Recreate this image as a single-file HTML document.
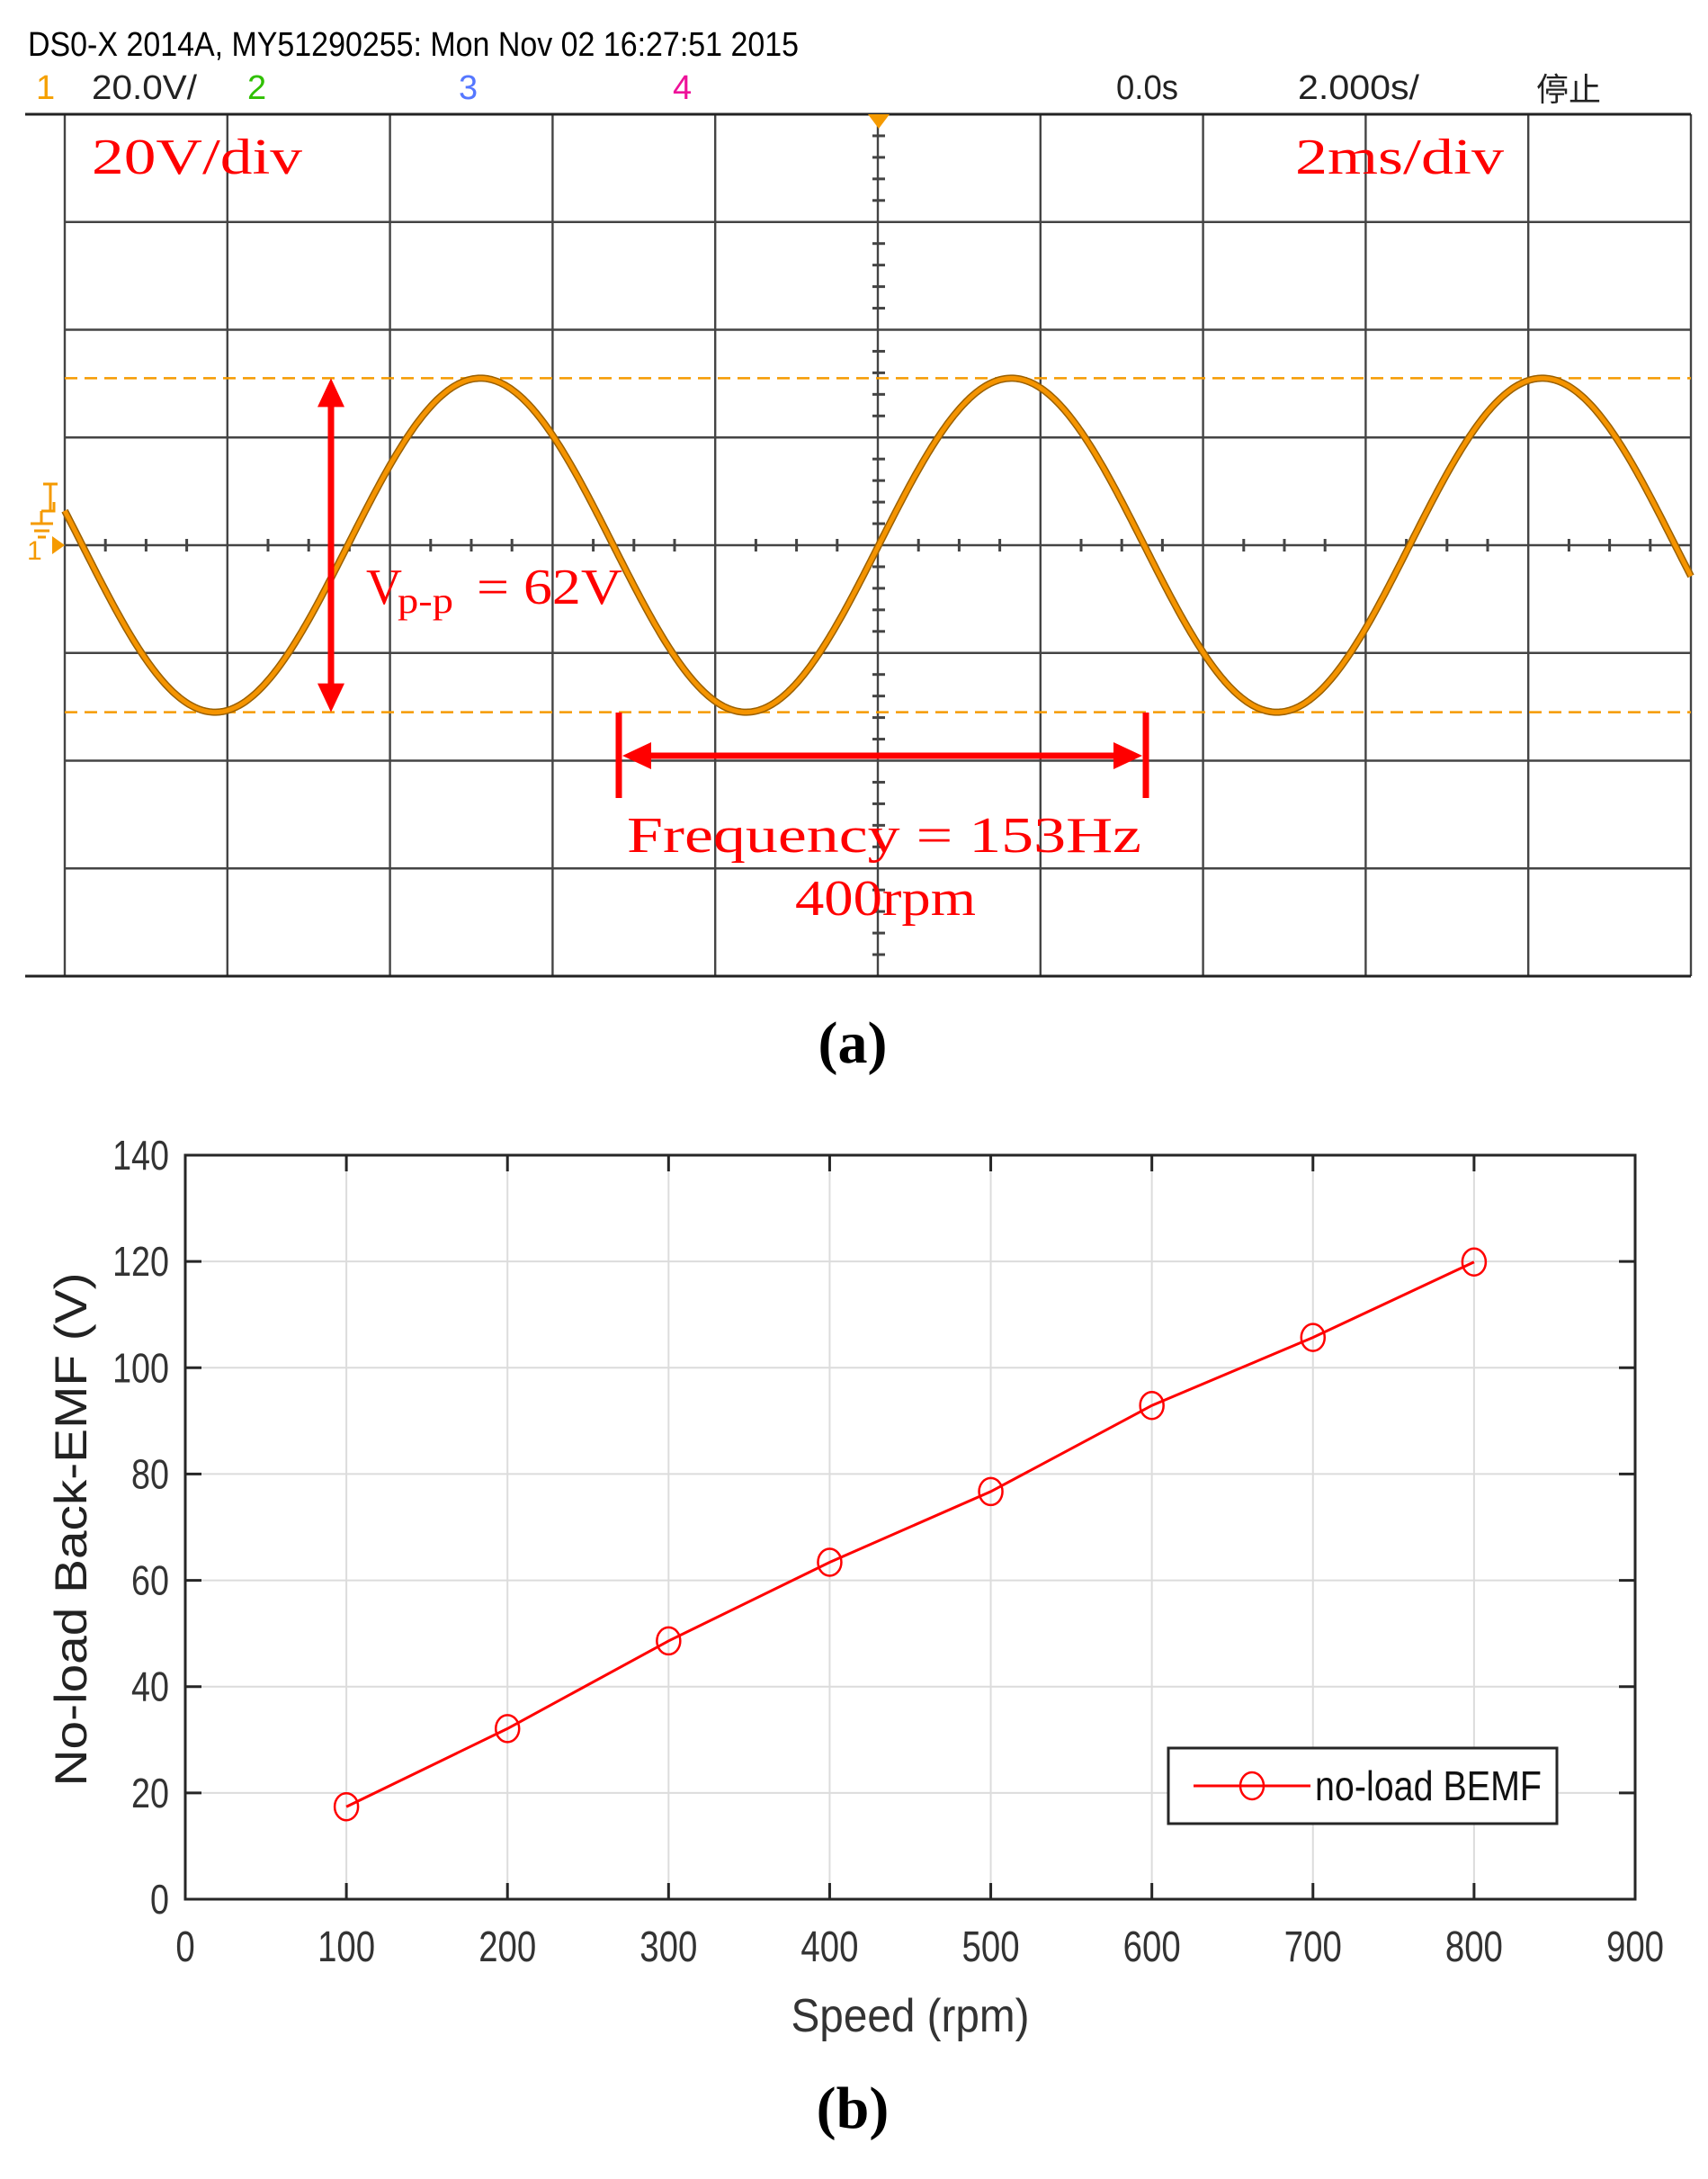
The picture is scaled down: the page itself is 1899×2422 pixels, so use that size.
<!DOCTYPE html>
<html><head><meta charset="utf-8"><style>
html,body{margin:0;padding:0;background:#fff;}
svg{display:block;}
</style></head><body>
<svg id="fig" width="1899" height="2422" viewBox="0 0 1899 2422" xmlns="http://www.w3.org/2000/svg">
<g id="scope">
  <text x="31" y="62" font-family="Liberation Sans, sans-serif" font-size="38" fill="#000" textLength="857" lengthAdjust="spacingAndGlyphs">DS0-X 2014A, MY51290255: Mon Nov 02 16:27:51 2015</text>
  <g font-family="Liberation Sans, sans-serif" font-size="38">
    <text x="40" y="110" fill="#f5a000">1</text>
    <text x="102" y="110" fill="#222" textLength="117" lengthAdjust="spacingAndGlyphs">20.0V/</text>
    <text x="275" y="110" fill="#2fc000">2</text>
    <text x="510" y="110" fill="#5577ff">3</text>
    <text x="748" y="110" fill="#ee1199">4</text>
    <text x="1241" y="110" fill="#222" textLength="69" lengthAdjust="spacingAndGlyphs">0.0s</text>
    <text x="1443" y="110" fill="#222" textLength="135" lengthAdjust="spacingAndGlyphs">2.000s/</text>
    <text x="1708" y="112" fill="#222" font-family="Liberation Sans, Noto Sans CJK SC, sans-serif" font-size="36">停止</text>
  </g>
  <g id="scopeGrid"></g>
  <g id="scopeWave"></g>
  <g id="scopeAnno"></g>
</g>
<text x="948" y="1181" text-anchor="middle" font-family="Liberation Serif, serif" font-size="66" font-weight="bold">(a)</text>
<g id="chart"></g>
<text x="948" y="2365" text-anchor="middle" font-family="Liberation Serif, serif" font-size="66" font-weight="bold">(b)</text>
</svg>
<script>
// ---- Scope data ----
const scopeVoltsPerDiv = 20;
const scopeAmplitudeV = [31];
const scopePeriodDiv = [3.265];
// ---- Chart data ----
const speeds = [100, 200, 300, 400, 500, 600, 700, 800];
const bemfValues = [17.4, 32.1, 48.6, 63.4, 76.7, 92.9, 105.7, 119.9];
const xTicks = [0, 100, 200, 300, 400, 500, 600, 700, 800, 900];
const yTicks = [0, 20, 40, 60, 80, 100, 120, 140];
const seriesName = ['no-load BEMF'];

const NS = 'http://www.w3.org/2000/svg';
function mk(tag, parent, attrs){ const e=document.createElementNS(NS,tag); for(const k in attrs) e.setAttribute(k,attrs[k]); parent.appendChild(e); return e; }

// ---- Scope ----
const SL=72, SR=1880, ST=127, SB=1085, CX=977, CY=606;
const divX=(SR-SL)/10, divY=(SB-ST)/8;
const sg=document.getElementById('scopeGrid');
for(let i=0;i<=10;i++){ const x=SL+i*divX;
  const l=mk('line',sg,{x1:x,y1:ST,x2:x,y2:SB,stroke:'#444','stroke-width':2.4});
  
  
}
for(let j=1;j<8;j++){ const y=ST+j*divY;
  const l=mk('line',sg,{x1:SL,y1:y,x2:SR,y2:y,stroke:'#444','stroke-width':2.4});
  
  
}
[ST,SB].forEach(y=>{ const l=mk('line',sg,{x1:28,y1:y,x2:SR,y2:y,stroke:'#222','stroke-width':3});
  
  
});
for(let k=0;k<=40;k++){ const x=SL+k*divX/4; if(k%4===0) continue;
  const t=mk('line',sg,{x1:x,y1:CY-7,x2:x,y2:CY+7,stroke:'#444','stroke-width':3});
  
  
}
for(let k=0;k<=40;k++){ const y=ST+k*divY/5; if(k%5===0) continue;
  const t=mk('line',sg,{x1:CX-7,y1:y,x2:CX+7,y2:y,stroke:'#444','stroke-width':3});
  
  
}
const trig=mk('polygon',sg,{points:`${CX-12},${ST} ${CX+12},${ST} ${CX},${ST+16}`,fill:'#f59a00'});


const gnd=mk('path',sg,{d:`M48,538 h16 M56,538 v30 M46,568 h14 v-10 M34,582 h25 M38,590 h17 M42,597 h9 M46,568 v14`,stroke:'#f59a00','stroke-width':3,fill:'none'});


const garr=mk('polygon',sg,{points:`58,596 72,606 58,616`,fill:'#f59a00'});


const g1=mk('text',sg,{x:30,y:622,fill:'#f59a00','font-family':'Liberation Sans, sans-serif','font-size':30});
g1.textContent='1';



const pxPerV=divY/scopeVoltsPerDiv;
const A=scopeAmplitudeV[0]*pxPerV, P=scopePeriodDiv[0]*divX;
const sw=document.getElementById('scopeWave');
[CY-A, CY+A].forEach(y=>{ const l=mk('line',sw,{x1:SL,y1:y,x2:SR,y2:y,stroke:'#f59a00','stroke-width':2.5,'stroke-dasharray':'14 8'});
  
  
});
let d='';
for(let x=SL;x<=SR;x+=2){ const y=CY-A*Math.sin(2*Math.PI*(x-CX)/P); d+=(x===SL?'M':'L')+x+','+y.toFixed(1); }
const w1=mk('path',sw,{d:d,stroke:'#9a6000','stroke-width':8,fill:'none'});


const w2=mk('path',sw,{d:d,stroke:'#f59400','stroke-width':5,fill:'none'});



const sa=document.getElementById('scopeAnno');
function red(tag,attrs,name){ const e=mk(tag,sa,attrs);   return e; }
red('line',{x1:368,y1:CY-A+28,x2:368,y2:CY+A-28,stroke:'#f00','stroke-width':7},'vpp-arrow-line');
red('polygon',{points:`368,${CY-A} 353,${CY-A+32} 383,${CY-A+32}`,fill:'#f00'},'vpp-arrow-head-top');
red('polygon',{points:`368,${CY+A} 353,${CY+A-32} 383,${CY+A-32}`,fill:'#f00'},'vpp-arrow-head-bottom');
const x1=688, x2=1274;
red('line',{x1:x1,y1:792,x2:x1,y2:887,stroke:'#f00','stroke-width':7},'period-bar-left');
red('line',{x1:x2,y1:792,x2:x2,y2:887,stroke:'#f00','stroke-width':7},'period-bar-right');
red('line',{x1:x1+20,y1:840,x2:x2-20,y2:840,stroke:'#f00','stroke-width':7},'period-arrow-line');
red('polygon',{points:`${x1+4},840 ${x1+36},825 ${x1+36},855`,fill:'#f00'},'period-arrow-head-left');
red('polygon',{points:`${x2-4},840 ${x2-36},825 ${x2-36},855`,fill:'#f00'},'period-arrow-head-right');
function rtext(x,y,s,len,name,fs){ const t=red('text',{x:x,y:y,fill:'#f00','font-family':'Liberation Serif, serif','font-size':fs||56,textLength:len,lengthAdjust:'spacingAndGlyphs'},name); t.textContent=s; return t; }
rtext(102,193,'20V/div',234,'volts-per-div-label');
rtext(1440,193,'2ms/div',232,'time-per-div-label');
rtext(407,671,'V',40,'vpp-label-v');
rtext(442,681,'p-p',62,'vpp-label-sub',40);
rtext(530,671,'=  62V',162,'vpp-label-value');
rtext(697,947,'Frequency = 153Hz',572,'frequency-label');
rtext(884,1017,'400rpm',201,'speed-label');

// ---- Chart ----
const cg=document.getElementById('chart');
const L=206,R=1818,T=1284,B=2111;
const xs=v=>L+(v-0)/(900-0)*(R-L);
const ys=v=>B-(v-0)/(140-0)*(B-T);
function c(tag,attrs){ return mk(tag,cg,attrs); }
xTicks.forEach(v=>{ const x=xs(v);
  if(v>0&&v<900){ const g=c('line',{x1:x,y1:T,x2:x,y2:B,stroke:'#dcdcdc','stroke-width':2});
     
    const t1=c('line',{x1:x,y1:B,x2:x,y2:B-18,stroke:'#262626','stroke-width':3});
     
    const t2=c('line',{x1:x,y1:T,x2:x,y2:T+18,stroke:'#262626','stroke-width':3});
     
  }
  const lb=c('text',{x:x,y:2180,'text-anchor':'middle','font-family':'Liberation Sans, sans-serif','font-size':48,fill:'#333',transform:`translate(${x},0) scale(0.8,1) translate(${-x},0)`});
  lb.textContent=String(v);
   
});
yTicks.forEach(v=>{ const y=ys(v);
  if(v>0&&v<140){ const g=c('line',{x1:L,y1:y,x2:R,y2:y,stroke:'#dcdcdc','stroke-width':2});
     
    const t1=c('line',{x1:L,y1:y,x2:L+18,y2:y,stroke:'#262626','stroke-width':3});
     
    const t2=c('line',{x1:R,y1:y,x2:R-18,y2:y,stroke:'#262626','stroke-width':3});
     
  }
  const lb=c('text',{x:188,y:y+16,'text-anchor':'end','font-family':'Liberation Sans, sans-serif','font-size':46,fill:'#333',transform:`translate(188,0) scale(0.82,1) translate(-188,0)`});
  lb.textContent=String(v);
   
});
const box=c('rect',{x:L,y:T,width:R-L,height:B-T,fill:'none',stroke:'#262626','stroke-width':3});
 
const pts=speeds.map((s,i)=>xs(s)+','+ys(bemfValues[i])).join(' ');
const line=c('polyline',{points:pts,fill:'none',stroke:'#f00','stroke-width':3});
 
speeds.forEach((s,i)=>{ const m=c('ellipse',{cx:xs(s),cy:ys(bemfValues[i]),rx:13,ry:15,fill:'none',stroke:'#f00','stroke-width':2.5});
   
});
const xl=c('text',{x:1012,y:2258,'text-anchor':'middle','font-family':'Liberation Sans, sans-serif','font-size':52,fill:'#333',textLength:265,lengthAdjust:'spacingAndGlyphs'});
xl.textContent='Speed (rpm)';
 
const yl=c('text',{x:0,y:0,'text-anchor':'middle','font-family':'Liberation Sans, sans-serif','font-size':50,fill:'#222',textLength:571,lengthAdjust:'spacingAndGlyphs',transform:'translate(96,1700) rotate(-90)'});
yl.textContent='No-load Back-EMF (V)';
 
const lg=c('g',{});
 
const lr=mk('rect',lg,{x:1299,y:1943,width:432,height:84,fill:'#fff',stroke:'#262626','stroke-width':3});
 
const ll=mk('line',lg,{x1:1327,y1:1985,x2:1457,y2:1985,stroke:'#f00','stroke-width':3});
 
const lm=mk('ellipse',lg,{cx:1392,cy:1985,rx:13,ry:15,fill:'none',stroke:'#f00','stroke-width':2.5});
 
const lt=mk('text',lg,{x:1462,y:2001,'font-family':'Liberation Sans, sans-serif','font-size':46,fill:'#111',textLength:252,lengthAdjust:'spacingAndGlyphs'});
lt.textContent=seriesName[0];
 
</script>
</body></html>
